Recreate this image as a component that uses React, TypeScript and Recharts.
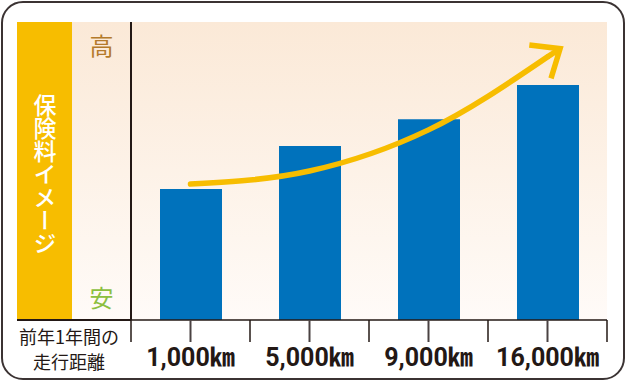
import { ComposedChart, Bar, Line, XAxis, YAxis } from "recharts";

// 走行距離ごとの保険料イメージ（目盛なし、相対値）
const categories = ["1,000㎞", "5,000㎞", "9,000㎞", "16,000㎞"];
const premiumLevel = [44, 58.4, 67.4, 78.9];
const trendArrow = [45.6, 50, 63.8, 88.3];

const data = categories.map((name, i) => ({
  name,
  premium: premiumLevel[i],
  trend: trendArrow[i],
}));

const INK = "#231815";
const BLUE = "#0072BC";
const YELLOW = "#F7BD00";
const JP = "'Noto Sans CJK JP', 'Noto Sans', sans-serif";

const DistanceTick = (props: any) => {
  const { x, y, payload, index } = props;
  const half = payload?.offset ?? 59.5;
  return (
    <g>
      <line x1={x} y1={y} x2={x} y2={y + 22} stroke="#4a4242" strokeWidth={2} />
      <line x1={x + half} y1={y} x2={x + half} y2={y + 22} stroke={INK} strokeWidth={1.5} />
      {index === 0 && (
        <line x1={x - half} y1={y} x2={x - half} y2={y + 22} stroke={INK} strokeWidth={1.5} />
      )}
      <text
        x={x}
        y={y + 46}
        textAnchor="middle"
        fill={INK}
        fontSize={25}
        fontWeight={700}
        fontFamily={"Roboto, 'Noto Sans CJK JP', sans-serif"}
      >
        {payload.value}
      </text>
    </g>
  );
};

// 最後の点に矢じりを描く
const ArrowDot = (props: any) => {
  const { cx, cy, index } = props;
  if (index !== data.length - 1) return <g key={`d-${index}`} />;
  const ang = (-33 * Math.PI) / 180;
  const tx = cx + 15 * Math.cos(ang);
  const ty = cy + 15 * Math.sin(ang);
  const back = ang + Math.PI;
  const spread = (40 * Math.PI) / 180;
  const len = 31;
  const a1x = tx + len * Math.cos(back - spread);
  const a1y = ty + len * Math.sin(back - spread);
  const a2x = tx + len * Math.cos(back + spread);
  const a2y = ty + len * Math.sin(back + spread);
  return (
    <g key={`d-${index}`}>
      <path
        d={`M${cx},${cy} L${tx},${ty} M${a1x},${a1y} L${tx},${ty} L${a2x},${a2y}`}
        stroke={YELLOW}
        strokeWidth={5.5}
        fill="none"
        strokeLinejoin="miter"
      />
    </g>
  );
};

const App = () => (
  <div style={{ position: "absolute", left: 0, top: 0, width: 627, height: 382, background: "#fff" }}>
    <div
      style={{
        position: "absolute",
        left: 1,
        top: 1,
        width: 624,
        height: 379,
        boxSizing: "border-box",
        border: "2px solid #3b3333",
        borderRadius: 22,
      }}
    />
    <div
      style={{
        position: "absolute",
        left: 17,
        top: 22,
        width: 590,
        height: 298,
        background: "linear-gradient(to bottom, #FBE9D7, #FFFBF8)",
      }}
    />
    <div style={{ position: "absolute", left: 17, top: 22, width: 55, height: 298, background: YELLOW }} />
    <div
      style={{
        position: "absolute",
        left: 17,
        top: 94,
        width: 55,
        height: 165,
        display: "flex",
        justifyContent: "center",
      }}
    >
      <span
        style={{
          writingMode: "vertical-rl",
          color: "#fff",
          fontFamily: JP,
          fontSize: 23,
          fontWeight: 500,
          lineHeight: 1,
        }}
      >
        保険料イメージ
      </span>
    </div>
    <div
      style={{
        position: "absolute",
        left: 72,
        top: 31,
        width: 59,
        textAlign: "center",
        color: "#B47A2B",
        fontFamily: JP,
        fontSize: 24,
        lineHeight: "28px",
      }}
    >
      高
    </div>
    <div
      style={{
        position: "absolute",
        left: 72,
        top: 283,
        width: 59,
        textAlign: "center",
        color: "#8CBF3F",
        fontFamily: JP,
        fontSize: 24,
        lineHeight: "28px",
      }}
    >
      安
    </div>
    <div style={{ position: "absolute", left: 17, top: 319, width: 114, height: 1.5, background: INK }} />
    <div style={{ position: "absolute", left: 130.25, top: 22, width: 1.5, height: 298, background: INK }} />
    <div
      style={{
        position: "absolute",
        left: 12,
        top: 324,
        width: 114,
        textAlign: "center",
        color: INK,
        fontFamily: JP,
        fontSize: 18,
        lineHeight: "25px",
      }}
    >
      前年1年間の
      <br />
      走行距離
    </div>
    <div style={{ position: "absolute", left: 0, top: 0 }}>
      <ComposedChart width={627} height={382} data={data} margin={{ top: 22, right: 20, bottom: 22, left: 131 }}>
        <YAxis domain={[0, 100]} hide />
        <XAxis
          dataKey="name"
          height={40}
          tickSize={0}
          tickMargin={0}
          tickLine={false}
          interval={0}
          axisLine={{ stroke: INK, strokeWidth: 1.5 }}
          tick={<DistanceTick />}
        />
        <Bar dataKey="premium" fill={BLUE} barSize={62} isAnimationActive={false} />
        <Line
          dataKey="trend"
          type="monotone"
          stroke={YELLOW}
          strokeWidth={5.5}
          strokeLinecap="round"
          dot={ArrowDot}
          activeDot={false}
          isAnimationActive={false}
        />
      </ComposedChart>
    </div>
  </div>
);

export default App;
